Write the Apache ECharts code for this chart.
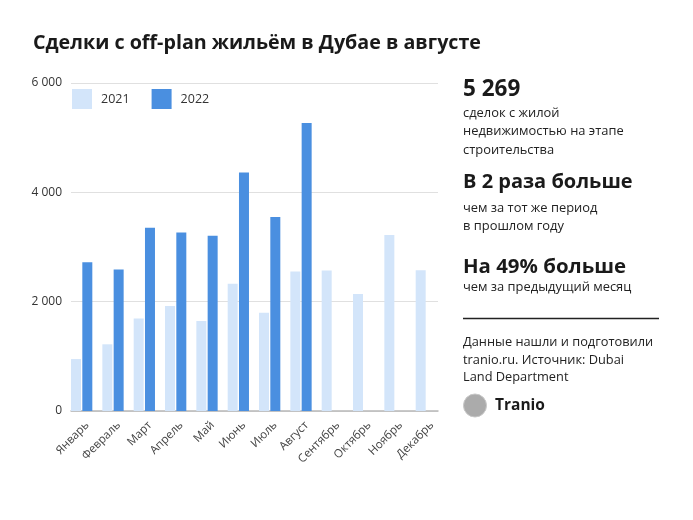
<!DOCTYPE html>
<html>
<head>
<meta charset="utf-8">
<script src="https://cdn.jsdelivr.net/npm/echarts@6/dist/echarts.min.js"></script>
<style>
html,body{margin:0;padding:0;background:#fff;}
#chart{width:693px;height:520px;}
</style>
</head>
<body>
<div id="chart"></div>
<script>
const months = ['Январь','Февраль','Март','Апрель','Май','Июнь','Июль','Август','Сентябрь','Октябрь','Ноябрь','Декабрь'];
const seriesNames = ['2021','2022'];
const values2021 = [950, 1220, 1690, 1920, 1645, 2330, 1795, 2550, 2570, 2140, 3220, 2575];
const values2022 = [2720, 2590, 3350, 3265, 3205, 4365, 3550, 5269, null, null, null, null];
const yTickValues = [0, 2000, 4000, 6000];
const yTickLabels = ['0', '2 000', '4 000', '6 000'];

const FONT = '"Open Sans", "Noto Sans", sans-serif';
const chart = echarts.init(document.getElementById('chart'), null, {renderer: 'canvas'});

const yTop = 83, yBottom = 411;
const option = {
  animation: false,
  backgroundColor: '#ffffff',
  textStyle: {fontFamily: FONT},
  title: {
    text: 'Сделки с off-plan жильём в Дубае в августе',
    left: 33, top: 33, padding: 0,
    textStyle: {fontFamily: FONT, fontWeight: 'bold', fontSize: 19.7, color: '#1a1a1a'}
  },
  legend: {
    data: seriesNames,
    left: 72, top: 89, padding: 0,
    itemWidth: 20, itemHeight: 20, itemGap: 22,
    icon: 'rect',
    textStyle: {fontFamily: FONT, fontSize: 12.5, color: '#333', padding: [0, 0, 0, 4]}
  },
  grid: [
    {left: 71, right: 693 - 438, top: yTop, bottom: 520 - yBottom},
    {left: 66, right: 693 - 442, top: yTop, bottom: 520 - yBottom}
  ],
  xAxis: [
    {type: 'category', gridIndex: 0, data: months,
     axisLine: {show: true, lineStyle: {color: '#b8b8b8', width: 1.5}},
     axisTick: {show: false}, axisLabel: {show: false}},
    {type: 'category', gridIndex: 1, data: months,
     axisLine: {show: false}, axisTick: {show: false},
     axisLabel: {rotate: 45, interval: 0, margin: 18, padding: [0, -8, 0, 0], fontFamily: FONT, fontSize: 11.5, color: '#444'}}
  ],
  yAxis: [
    {type: 'value', gridIndex: 0, min: 0, max: 6000, interval: 2000,
     axisLine: {show: false}, axisTick: {show: false},
     splitLine: {lineStyle: {color: '#e0e0e0', width: 1}},
     axisLabel: {margin: 9, fontFamily: FONT, fontSize: 12, color: '#333',
       formatter: v => yTickLabels[yTickValues.indexOf(v)]}},
    {type: 'value', gridIndex: 1, min: 0, max: 6000, interval: 2000, show: false,
     splitLine: {show: false}}
  ],
  series: [
    {name: seriesNames[0], type: 'bar', xAxisIndex: 1, yAxisIndex: 1, data: values2021,
     barWidth: 10, barGap: '13%', itemStyle: {color: '#d3e5fa'}},
    {name: seriesNames[1], type: 'bar', xAxisIndex: 1, yAxisIndex: 1, data: values2022,
     barWidth: 10, barGap: '13%', itemStyle: {color: '#4a8fe0'}}
  ],
  graphic: [
    {type: 'text', left: 463, top: 78, style: {text: '5 269', fontFamily: FONT, fontWeight: 'bold', fontSize: 22.5, fill: '#1a1a1a'}},
    {type: 'text', left: 463, top: 104, style: {text: 'сделок с жилой\nнедвижимостью на этапе\nстроительства', fontFamily: FONT, fontSize: 12.9, lineHeight: 18.5, fill: '#222'}},
    {type: 'text', left: 463, top: 172, style: {text: 'В 2 раза больше', fontFamily: FONT, fontWeight: 'bold', fontSize: 20, fill: '#1a1a1a'}},
    {type: 'text', left: 463, top: 199, style: {text: 'чем за тот же период\nв прошлом году', fontFamily: FONT, fontSize: 12.9, lineHeight: 18.5, fill: '#222'}},
    {type: 'text', left: 463, top: 257, style: {text: 'На 49% больше', fontFamily: FONT, fontWeight: 'bold', fontSize: 20.4, fill: '#1a1a1a'}},
    {type: 'text', left: 463, top: 278, style: {text: 'чем за предыдущий месяц', fontFamily: FONT, fontSize: 12.9, lineHeight: 18.5, fill: '#222'}},
    {type: 'line', shape: {x1: 463, y1: 318.5, x2: 659, y2: 318.5}, style: {stroke: '#222', lineWidth: 1.5}},
    {type: 'text', left: 463, top: 334, style: {text: 'Данные нашли и подготовили\ntranio.ru. Источник: Dubai\nLand Department', fontFamily: FONT, fontSize: 12.8, lineHeight: 17.5, fill: '#222'}},
    {type: 'circle', shape: {cx: 475, cy: 405.5, r: 11.5}, style: {fill: '#ababab', stroke: '#c8c8c8', lineWidth: 1}},
    {type: 'text', left: 495, top: 397.5, style: {text: 'Tranio', fontFamily: FONT, fontWeight: 'bold', fontSize: 15.5, fill: '#1a1a1a'}}
  ]
};
chart.setOption(option);
</script>
</body>
</html>
